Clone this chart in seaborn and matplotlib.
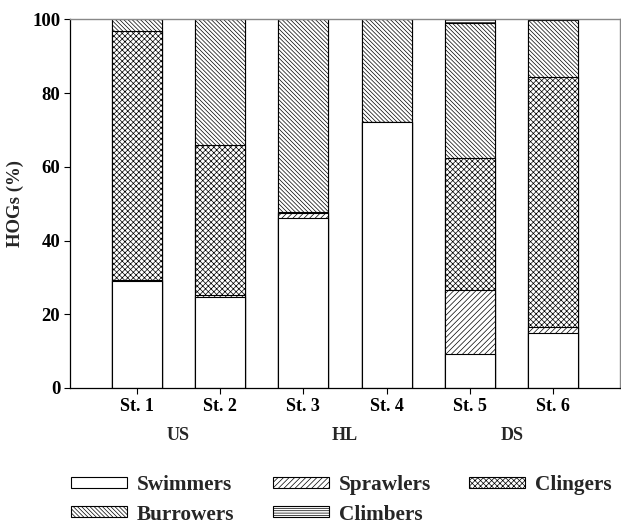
import matplotlib
matplotlib.use("Agg")
import matplotlib.pyplot as plt
import matplotlib.patches as mpatches
import numpy as np
import pandas as pd
import seaborn as sns

stations = ["St. 1", "St. 2", "St. 3", "St. 4", "St. 5", "St. 6"]
groups = ["US", "HL", "DS"]
swimmers = [29.0, 24.6, 46.2, 72.2, 9.2, 14.8]
sprawlers = [0.4, 0.6, 1.3, 0.0, 17.4, 1.7]
clingers = [67.4, 40.7, 0.3, 0.0, 35.7, 67.9]
burrowers = [3.2, 34.1, 52.2, 27.8, 36.8, 15.4]
climbers = [0.0, 0.0, 0.0, 0.0, 0.9, 0.2]
yticks = [0, 20, 40, 60, 80, 100]

sns.set_theme(style="white")
plt.rcParams["font.family"] = ["Liberation Serif", "DejaVu Serif"]
plt.rcParams["font.weight"] = "bold"
plt.rcParams["hatch.linewidth"] = 0.5

fig = plt.figure(figsize=(6.21, 5.24), dpi=100)
ax = fig.add_axes([70 / 621, 1 - 388 / 524, 550 / 621, (388 - 19.3) / 524])

layers = [
    ("Swimmers", swimmers, ""),
    ("Sprawlers", sprawlers, "/" * 6),
    ("Clingers", clingers, "x" * 6),
    ("Burrowers", burrowers, "\\" * 8),
    ("Climbers", climbers, "-" * 7),
]

df = pd.DataFrame({"station": stations})
cum = np.zeros(len(stations))
cums = []
for name, vals, h in layers:
    cum = cum + np.array(vals)
    cums.append((name, cum.copy(), h))

# draw from top cumulative down so lower layers cover upper ones
for name, c, h in reversed(cums):
    d = df.copy()
    d["val"] = c
    sns.barplot(data=d, x="station", y="val", ax=ax, color="white",
                saturation=1, width=0.6, edgecolor="black", linewidth=0.8,
                hatch=h, zorder=2)

ax.set_xlim(-0.8, 5.8)
ax.set_ylim(0, 100)
ax.set_yticks(yticks)
ax.set_yticklabels([str(t) for t in yticks])
ax.set_xlabel("")
ax.set_ylabel("HOGs (%)", fontsize=13.5, fontweight="bold", labelpad=6)
ax.tick_params(axis="both", direction="out", length=4, width=0.8,
               labelsize=13, colors="black", pad=3)
ax.tick_params(axis="y", labelsize=13.5)
ax.tick_params(axis="both", which="both", left=True, bottom=True)
for lab in ax.get_xticklabels() + ax.get_yticklabels():
    lab.set_fontweight("bold")

for s in ["left", "bottom"]:
    ax.spines[s].set_color("black")
    ax.spines[s].set_linewidth(0.9)
for s in ["top", "right"]:
    ax.spines[s].set_visible(True)
    ax.spines[s].set_color("#888888")
    ax.spines[s].set_linewidth(1.0)

# group labels
trans = ax.get_xaxis_transform()
for i, g in enumerate(groups):
    ax.text(2 * i + 0.5, -0.13, g, transform=trans, ha="center", va="center",
            fontsize=13, fontweight="bold")

# legend
hmap = {n: h for n, _, h in layers}
order = ["Swimmers", "Burrowers", "Sprawlers", "Climbers", "Clingers"]
handles = [mpatches.Patch(facecolor="white", edgecolor="black", linewidth=0.8,
                          hatch=hmap[n], label=n) for n in order]
fig.legend(handles=handles, loc="upper left",
           bbox_to_anchor=(71 / 621, 1 - 475 / 524), ncol=3, frameon=False,
           prop={"family": "Liberation Serif", "weight": "bold", "size": 15.3},
           handlelength=2.65, handleheight=0.42, handletextpad=0.45,
           columnspacing=1.8, labelspacing=0.45, borderpad=0,
           borderaxespad=0)

fig.savefig("out.png", dpi=100)
